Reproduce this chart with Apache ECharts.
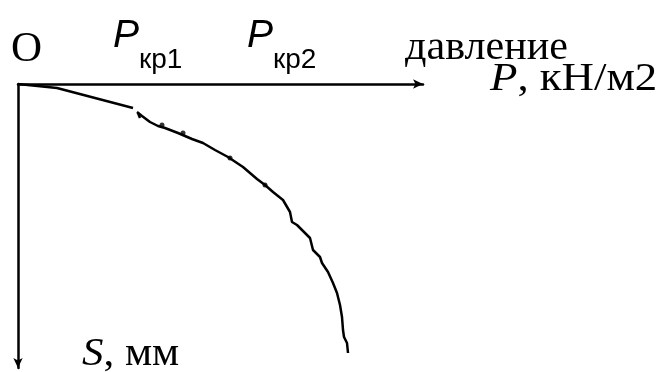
<!DOCTYPE html>
<html>
<head>
<meta charset="utf-8">
<script src="https://cdn.jsdelivr.net/npm/echarts@6/dist/echarts.min.js"></script>
<style>
  html, body { margin: 0; padding: 0; background: #fff; }
  #chart { width: 663px; height: 372px; }
</style>
</head>
<body>
<div id="chart"></div>
<script>
// Settlement curve S(P): initial (elastic) branch
const branchElastic = [[0, 0], [39, 4], [115, 24]];
// Second branch up to failure
const branchPlastic = [
  [119, 28], [124, 32], [132, 38], [140, 42], [147, 44], [160, 49], [174, 55],
  [185, 59], [197, 66], [210, 73], [225, 83], [239, 95], [247, 101], [255, 108],
  [265, 116], [272, 128], [274, 138], [279, 141], [292, 154], [295, 166],
  [302, 173], [304, 179], [310, 188], [315, 199], [319, 209], [322, 221],
  [324, 233], [325, 246], [326, 253], [329, 259], [330, 269]
];
// Short stroke at the start of the second branch
const branchStub = [[120, 29], [122, 34]];
// Small marks along the curve
const curveMarks = [[144, 41], [165, 49], [212, 74], [247, 101]];

const axisMaxP = 405;
const axisMaxS = 284;

const serif = '"Liberation Serif", "Times New Roman", serif';
const sans = '"Liberation Sans", Arial, sans-serif';

const chart = echarts.init(document.getElementById('chart'), null, { renderer: 'canvas' });

const axisLineStyle = { color: '#000', width: 2.5 };

const subRich = {
  p: { font: 'italic 39px ' + sans, verticalAlign: 'bottom', padding: [0, 0, 18, 0] },
  s: { font: '28px ' + sans, verticalAlign: 'bottom' }
};

chart.setOption({
  animation: false,
  backgroundColor: '#fff',
  grid: { left: 18, top: 84, width: 405, height: 284, containLabel: false },
  xAxis: {
    type: 'value', position: 'top', min: 0, max: axisMaxP,
    axisLine: { show: true, symbol: ['none', 'arrow'], symbolSize: [7, 10], lineStyle: axisLineStyle },
    axisTick: { show: false }, axisLabel: { show: false }, splitLine: { show: false }
  },
  yAxis: {
    type: 'value', inverse: true, min: 0, max: axisMaxS,
    axisLine: { show: true, symbol: ['arrow', 'none'], symbolSize: [7, 10], lineStyle: axisLineStyle },
    axisTick: { show: false }, axisLabel: { show: false }, splitLine: { show: false }
  },
  series: [
    {
      type: 'line', data: branchElastic, showSymbol: false,
      lineStyle: { color: '#000', width: 2.5 }
    },
    {
      type: 'line', data: branchPlastic, showSymbol: false,
      lineStyle: { color: '#000', width: 2.5 }
    },
    {
      type: 'line', data: branchStub, showSymbol: false,
      lineStyle: { color: '#000', width: 2.5 }
    },
    {
      type: 'scatter', data: curveMarks, symbolSize: 5,
      itemStyle: { color: '#000' }
    }
  ],
  graphic: [
    { type: 'text', left: 11, top: 28,
      style: { text: 'O', font: '43px ' + serif, fill: '#000' } },
    { type: 'text', x: 113, y: 74,
      style: { text: '{p|P}{s|кр1}', fill: '#000', textVerticalAlign: 'bottom', rich: subRich } },
    { type: 'text', x: 247, y: 74,
      style: { text: '{p|P}{s|кр2}', fill: '#000', textVerticalAlign: 'bottom', rich: subRich } },
    { type: 'text', x: 405, y: 29, originX: 0, scaleX: 1.08,
      style: { text: 'давление', font: '39px ' + serif, fill: '#000' } },
    { type: 'text', x: 490, y: 60, originX: 0, scaleX: 1.15,
      style: {
        text: '{i|P}{n|, кН/м2}', fill: '#000',
        rich: {
          i: { font: 'italic 39px ' + serif },
          n: { font: '39px ' + serif }
        }
      } },
    { type: 'text', x: 82, y: 335, originX: 0, scaleX: 1.1,
      style: {
        text: '{i|S}{n|, мм}', fill: '#000',
        rich: {
          i: { font: 'italic 39px ' + serif },
          n: { font: '39px ' + serif }
        }
      } }
  ]
});
</script>
</body>
</html>
